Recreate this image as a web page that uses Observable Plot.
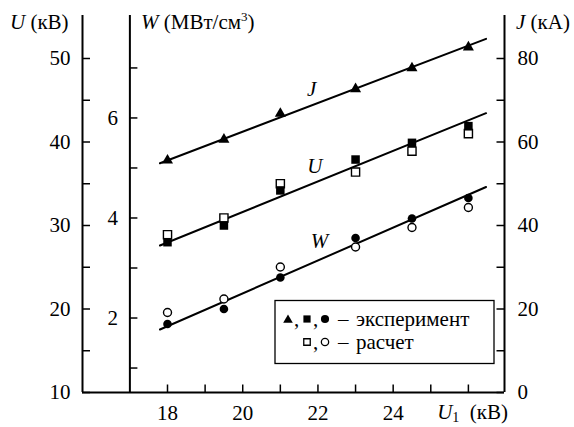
<!DOCTYPE html>
<html>
<head>
<meta charset="utf-8">
<script src="https://cdn.jsdelivr.net/npm/d3@7"></script>
<script src="https://cdn.jsdelivr.net/npm/@observablehq/plot@0.6"></script>
<style>
  html, body { margin: 0; padding: 0; background: white; font-family: 'Liberation Serif', serif; }
  #chart { width: 574px; height: 427px; position: relative; }
  #warm { position: absolute; left: 200px; top: 200px; font-family: 'Liberation Serif', serif; font-size: 21px; color: white; }
</style>
</head>
<body>
<div id="warm">U <i>J</i> 50</div>
<div id="chart"></div>
<script>
// ---- data ----
const u1 = [18, 19.5, 21, 23, 24.5, 26];              // U1, кВ
const jExp = [55.6, 60.6, 66.8, 72.7, 77.7, 82.7];    // J, кА (эксперимент)
const uExp = [28.0, 30.0, 34.2, 37.9, 39.9, 41.9];    // U, кВ (эксперимент)
const uCalc = [28.9, 30.9, 35.0, 36.4, 38.9, 41.0];   // U, кВ (расчет)
const wExp = [1.88, 2.18, 2.81, 3.60, 3.99, 4.40];    // W, МВт/см3 (эксперимент)
const wCalc = [2.11, 2.38, 3.02, 3.42, 3.81, 4.21];   // W, МВт/см3 (расчет)

const fitX = [17.8, 26.47];
const jFit = [54.9, 84.7];
const uFit = [27.6, 43.45];
const wFit = [1.77, 4.62];

const uTicks = [10, 15, 20, 25, 30, 35, 40, 45, 50];
const uLabels = [10, 20, 30, 40, 50];
const wTicks = [1, 2, 3, 4, 5, 6, 7];
const wLabels = [2, 4, 6];
const jTicks = [0, 10, 20, 30, 40, 50, 60, 70, 80];
const jLabels = [0, 20, 40, 60, 80];
const xTicks = [18, 19, 20, 21, 22, 23, 24, 25, 26];
const xLabels = [18, 20, 22, 24];

const seriesLabels = [
  {name: "J", x: 21.83, j: 72.6},
  {name: "U", x: 21.92, u: 37.13},
  {name: "W", x: 22.04, w: 3.53}
];

// ---- scales ----
const xMin = 15.74, xW = 17, xMax = 26.96;
const yMin = 10, yMax = 55.15;
const W = 574, H = 427, mL = 82, mR = 70, mT = 15, mB = 35;
const kx = (xMax - xMin) / (W - mL - mR);   // data units per px
const ky = (yMax - yMin) / (H - mT - mB);

// secondary axes expressed in U units
const jToU = j => 10 + j / 2;
const wToU = w => 18.92 + (w - 2) * 5.99;

const FONT = "'Liberation Serif', serif";
const FS = 21;

const pts = (xs, ys, f) => xs.map((x, i) => ({x, y: f(ys[i])}));
const id = v => v;

const plot = Plot.plot({
  width: W, height: H,
  marginLeft: mL, marginRight: mR, marginTop: mT, marginBottom: mB,
  x: {domain: [xMin, xMax], axis: null},
  y: {domain: [yMin, yMax], axis: null},
  style: {fontFamily: FONT, fontSize: FS + "px", background: "white"},
  marks: [
    // axis lines
    Plot.ruleX([xMin, xW, xMax], {y1: yMin, y2: yMax, stroke: "black", strokeWidth: 2}),
    Plot.ruleY([yMin], {x1: xMin, x2: xMax, stroke: "black", strokeWidth: 2}),
    // ticks (inward)
    Plot.ruleY(uTicks, {y: d => d, x1: xMin, x2: xMin + 8 * kx, stroke: "black", strokeWidth: 1.5}),
    Plot.ruleY(wTicks, {y: d => wToU(d), x1: xW, x2: xW + 8 * kx, stroke: "black", strokeWidth: 1.5}),
    Plot.ruleY(jTicks, {y: d => jToU(d), x1: xMax - 7.5 * kx, x2: xMax, stroke: "black", strokeWidth: 1.5}),
    Plot.ruleX(xTicks, {x: d => d, y1: yMin, y2: yMin + 7.5 * ky, stroke: "black", strokeWidth: 1.5}),
    // tick labels
    Plot.text(uLabels, {x: xMin, y: d => d, text: d => String(d), dx: -12, textAnchor: "end", fontSize: FS, fontFamily: "Liberation Serif"}),
    Plot.text(wLabels, {x: xW, y: d => wToU(d), text: d => String(d), dx: -12, textAnchor: "end", fontSize: FS, fontFamily: "Liberation Serif"}),
    Plot.text(jLabels, {x: xMax, y: d => jToU(d), text: d => String(d), dx: 13, textAnchor: "start", fontSize: FS, fontFamily: "Liberation Serif"}),
    Plot.text(xLabels, {x: d => d, y: yMin, text: d => String(d), dy: 21, fontSize: FS, fontFamily: "Liberation Serif"}),
    // fitted lines
    Plot.line(pts(fitX, jFit, jToU), {x: "x", y: "y", stroke: "black", strokeWidth: 2}),
    Plot.line(pts(fitX, uFit, id), {x: "x", y: "y", stroke: "black", strokeWidth: 2}),
    Plot.line(pts(fitX, wFit, wToU), {x: "x", y: "y", stroke: "black", strokeWidth: 2}),
    // calculated (open)
    Plot.dot(pts(u1, uCalc, id), {x: "x", y: "y", symbol: "square", r: 4.6, fill: "white", stroke: "black", strokeWidth: 1.4}),
    Plot.dot(pts(u1, wCalc, wToU), {x: "x", y: "y", symbol: "circle", r: 4, fill: "white", stroke: "black", strokeWidth: 1.4}),
    // experiment (filled)
    Plot.dot(pts(u1, jExp, jToU), {x: "x", y: "y", symbol: "triangle", r: 4.1, fill: "black", stroke: "none"}),
    Plot.dot(pts(u1, uExp, id), {x: "x", y: "y", symbol: "square", r: 4.8, fill: "black", stroke: "none"}),
    Plot.dot(pts(u1, wExp, wToU), {x: "x", y: "y", symbol: "circle", r: 4.3, fill: "black", stroke: "none"}),
    // series labels
    Plot.text(seriesLabels, {
      x: "x",
      y: d => d.u != null ? d.u : d.j != null ? jToU(d.j) : wToU(d.w),
      text: "name", fontStyle: "italic", fontSize: FS, fontFamily: "Liberation Serif"
    })
  ]
});

const chart = document.getElementById("chart");
plot.style.position = "absolute";
plot.style.left = "0";
plot.style.top = "0";
chart.appendChild(plot);

// ---- titles and legend (rich text) ----
const svg = d3.select(plot);
const T = svg.append("g").attr("font-family", FONT).attr("font-size", FS)
  .attr("fill", "black").attr("text-anchor", "start");

function title(x, y, parts, anchor) {
  const t = T.append("text").attr("x", x).attr("y", y).attr("text-anchor", anchor || "start");
  parts.forEach(p => {
    const s = t.append("tspan").text(p.t);
    if (p.i) s.attr("font-style", "italic");
    if (p.sup) s.attr("font-size", 13).attr("dy", -8);
    if (p.supEnd) s.attr("dy", 8);
    if (p.sub) s.attr("font-size", 14).attr("dy", 3);
    if (p.subEnd) s.attr("dy", -3);
  });
}
title(10, 29, [{t: "U", i: true}, {t: " (кВ)"}]);
title(141, 29, [{t: "W", i: true}, {t: " (МВт/см"}, {t: "3", sup: true}, {t: ")", supEnd: true}]);
title(516, 29, [{t: "J", i: true}, {t: " (кА)"}]);
title(508, 419, [{t: "U", i: true}, {t: "1", sub: true}, {t: "  (кВ)", subEnd: true}], "end");

// legend
const L = T.append("g");
L.append("rect").attr("x", 275).attr("y", 300.5).attr("width", 219).attr("height", 63)
  .attr("fill", "white").attr("stroke", "black").attr("stroke-width", 1.3);
const sym = (type, size) => d3.symbol(type, size)();
const row1 = 319, row2 = 342;
L.append("path").attr("d", sym(d3.symbolTriangle, 40)).attr("transform", `translate(288,${row1 + 1})`);
L.append("path").attr("d", sym(d3.symbolSquare, 52)).attr("transform", `translate(307,${row1})`);
L.append("path").attr("d", sym(d3.symbolCircle, 52)).attr("transform", `translate(325,${row1})`);
L.append("text").attr("x", 294).attr("y", row1 + 7).text(",");
L.append("text").attr("x", 313).attr("y", row1 + 7).text(",");
L.append("text").attr("x", 338).attr("y", row1 + 7).text("–");
L.append("text").attr("x", 356).attr("y", row1 + 7).text("эксперимент");
L.append("path").attr("d", sym(d3.symbolSquare, 42)).attr("transform", `translate(307,${row2})`)
  .attr("fill", "white").attr("stroke", "black").attr("stroke-width", 1.3);
L.append("path").attr("d", sym(d3.symbolCircle, 42)).attr("transform", `translate(325,${row2})`)
  .attr("fill", "white").attr("stroke", "black").attr("stroke-width", 1.3);
L.append("text").attr("x", 313).attr("y", row2 + 7).text(",");
L.append("text").attr("x", 338).attr("y", row2 + 7).text("–");
L.append("text").attr("x", 356).attr("y", row2 + 7).text("расчет");
</script>
</body>
</html>
